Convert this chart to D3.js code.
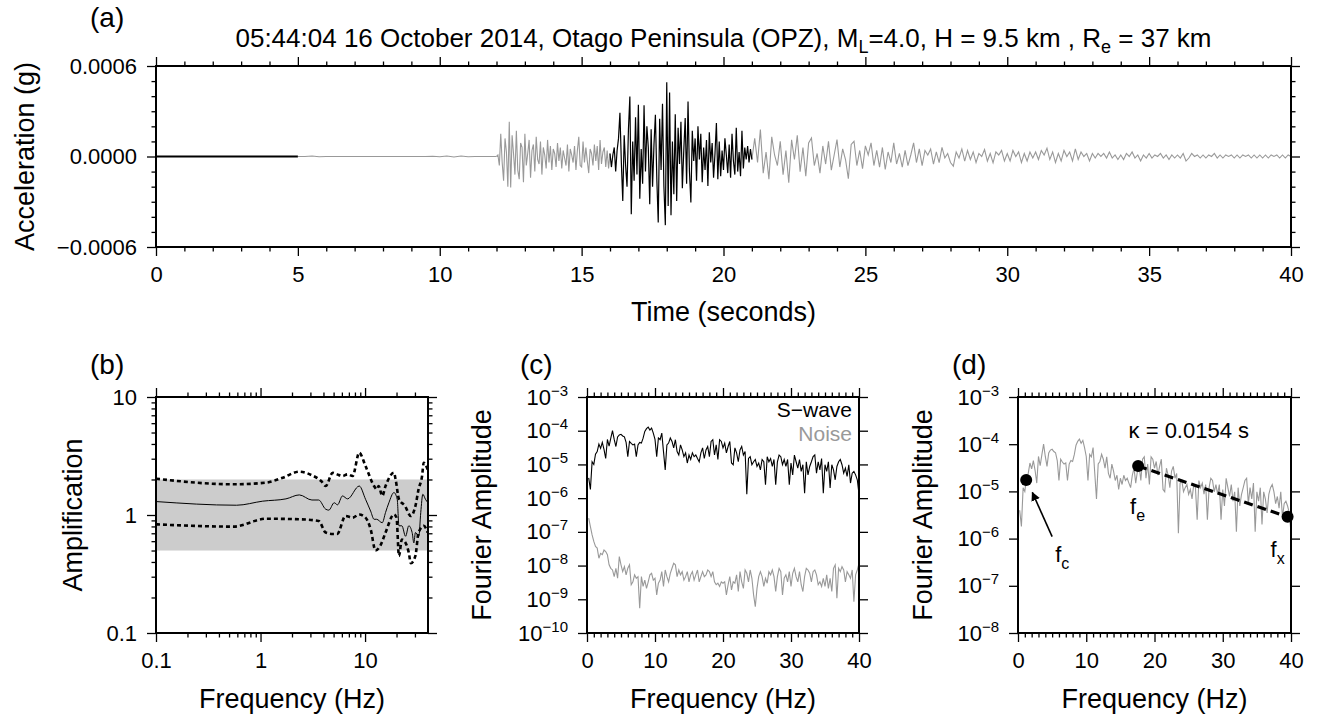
<!DOCTYPE html>
<html>
<head>
<meta charset="utf-8">
<script src="https://cdn.jsdelivr.net/npm/d3@7"></script>
<style>
  html, body { margin: 0; padding: 0; background: #fff; }
  svg { display: block; font-family: "Liberation Sans", Arial, Helvetica, sans-serif; }
</style>
</head>
<body>
<svg id="chart" width="1319" height="720"></svg>
<script>
// ---------- (a) acceleration record, values in micro-g ----------
const preEventT0 = 0, preEventDt = 5;
const preEvent = [0, 0];

const preNoiseT0 = 5, preNoiseDt = 0.25;
const preNoise = [0, 0, 3, -2, 0, 0, 0, 0, 0, 0, 0, 0, 0, 0, 0, 0, 0, 0, 0, 2,
  -2, 3, -3, 3, -2, 0, 0, 0, 0];

const pCodaT0 = 12.05, pCodaDt = 0.05;
const pCoda = [
  10, -60, 150, -40, -160, 120, 30, -200, 231, -205,
  140, 20, -120, 170, -90, -150, 90, 60, -170, 150,
  -60, 20, 110, -140, 40, 80, -100, 130, -20, -50,
  100, -120, 60, 10, -80, 110, -40, 70, -90, 50,
  20, -70, 90, -30, 60, -80, 40, -10, -60, 80,
  -100, 50, 10, -40, 70, -90, 40, 130, -60, -70,
  100, -40, 60, -30, -110, 50, 20, -60, 80, -30,
  70, -90, 110, -50, 30, 60, -70, 40, -80, 20
];

// S-wave window (drawn black)
const sWindowT0 = 16.0, sWindowDt = 0.05;
const sWindow = [
  20, -70, 10, 60, -100, 40, 120, 290, -40, -295,
  140, -60, -200, 180, 398, -383, 100, -160, 260, -120,
  343, -280, 50, -180, 340, -100, 200, 60, -317, 180,
  -200, 80, 277, -150, -437, 250, -90, 350, -200, -455,
  492, -328, 425, -389, 100, -250, 280, -295, 190, -50,
  230, -210, 40, 255, -180, 365, -100, -305, 170, -30,
  120, -160, 200, -20, 150, -170, 60, -90, 110, -196,
  160, -40, 90, -140, 20, 222, -150, 100, -130, 40,
  -90, 120, 10, -110, 80, -140, 150, -30, -120, 190,
  -100, 30, -130, 170, -80, 60, -20, 70, -40, 50,
  -20
];

const sCodaT0 = 21.0, sCodaDt = 0.1;
const sCoda = [
  -20, 120, -40, 178, -110, 30, -150, 130, 10, -60,
  100, -120, 40, -174, 110, -20, 140, -100, 60, -130,
  90, 123, -60, 20, -110, 70, -50, 100, -90, 10,
  112, -70, 50, -20, -147, 80, 101, -60, 40, -80,
  70, 10, 90, -60, 40, -70, 60, -86, 30, -40,
  90, -50, 20, -70, 40, -60, 10, 90, -40, 50,
  -60, 40, 10, 50, -50, 30, -40, 60, -10, 20,
  -40, -64, 30, -10, 50, -30, 40, -20, 30, -40,
  20, 0, 46, -30, 20, -42, 30, 10, 40, -30,
  20, -30, 40, 0, 30, -40, 20, -30, 30, -10,
  30, -20, 40, 10, 55, -20, 30, -40, 20, -30,
  40, 0, 30, -30, 50, -20, 30, 0, 20, -30,
  20, -10, 20, 0, 20, -10, 30, -10, 10, -20,
  10, -20, 20, 0, 30, -10, 10, -30, 10, -10,
  20, -10, 10, 0, 20, -10, 10, -20, 10, -10,
  10, -10, 20, -30, -10, 20, 0, 10, -10, 10,
  -10, 10, 0, 20, -10, 10, -10, 10, 0, 10,
  -10, 10, -10, 10, 0, 10, -10, 10, -10, 10,
  -10, 10, -10, 10, 0, 10, -10, 10, -10, 10,
  0
];

// ---------- (b) site amplification ----------
const ampBandLow = 0.5, ampBandHigh = 2.0;
const medianFreq = [0.1, 0.59, 1.05, 1.75, 2.35, 3.1, 3.6, 4.2, 4.5, 5.07, 5.45, 6.08, 6.8, 8.8,
  10.1, 11.3, 12.2, 12.9, 14.6, 15.7, 16.9, 18.9, 20.3, 21.1, 22.5, 24.4, 26.2, 28.2, 29.3,
  30.3, 32.7, 34.1, 35.7, 37.8, 40];
const medianAmp = [1.30, 1.21, 1.31, 1.37, 1.48, 1.34, 1.34, 1.12, 1.10, 1.27, 1.22, 1.45, 1.37, 1.76,
  1.36, 1.08, 0.92, 0.92, 0.86, 1.05, 1.27, 1.55, 1.36, 0.81, 0.81, 0.66, 0.81, 0.71, 0.58,
  0.71, 0.66, 1.05, 1.50, 1.36, 1.27];
const upperFreq = [0.1, 0.55, 1.13, 1.63, 2.35, 3.1, 3.8, 4.2, 4.9, 5.4, 6.1, 6.8, 7.6, 8.8, 10.1,
  12.2, 12.9, 13.5, 14.6, 15.7, 18.9, 19.6, 21.1, 24.0, 27.4, 30.3, 32.5, 35.1, 36.4, 39.7];
const upperAmp = [2.03, 1.82, 1.88, 2.07, 2.33, 2.17, 1.94, 1.76, 2.28, 2.21, 2.14, 2.21, 2.14, 3.37, 2.60,
  1.76, 1.65, 1.76, 1.45, 1.76, 2.28, 2.0, 1.36, 1.2, 0.98, 1.19, 1.65, 2.14, 2.77, 2.43];
const lowerFreq = [0.1, 0.55, 1.13, 2.35, 3.6, 4.2, 4.9, 5.4, 6.5, 7.6, 8.8, 10.1, 11.3, 12.6, 14.0,
  15.7, 18.9, 20.0, 21.1, 22.5, 24.4, 26.2, 27.4, 30.3, 32.5, 36.4, 39.7];
const lowerAmp = [0.834, 0.797, 0.93, 0.92, 0.89, 0.71, 0.69, 0.69, 0.98, 0.95, 1.01, 0.95, 0.76, 0.50, 0.55,
  0.71, 1.01, 0.95, 0.45, 0.62, 0.58, 0.48, 0.39, 0.45, 0.71, 0.81, 0.71];

// ---------- (c)/(d) Fourier spectra, bins every 0.25 Hz from 0.25 Hz ----------
const specDf = 0.25;
// S-wave, units of 1e-6
const sWaveSpec = [
  4.0, 1.8, 12, 10, 20, 24, 40, 30,
  45, 28, 15, 55, 35, 60, 100, 55,
  34, 65, 75, 78, 70, 66, 45, 17,
  48, 42, 38, 40, 17, 38, 45, 43,
  60, 95, 115, 128, 105, 120, 85, 55,
  17, 61, 54, 85, 24, 6.9, 38, 43,
  61, 48, 31, 54, 24, 19, 38, 27,
  17, 22, 11, 19, 14, 22, 17, 19,
  15, 12, 22, 31, 15, 27, 34, 17,
  48, 54, 19, 38, 14, 54, 48, 31,
  43, 22, 34, 48, 11, 9.8, 31, 22,
  12, 27, 34, 19, 24, 1.3, 15, 17,
  9.8, 12, 14, 8.7, 11, 6.9, 14, 12,
  2.5, 17, 12, 15, 8.7, 14, 2.5, 12,
  19, 17, 9.8, 14, 8.7, 14, 2.5, 11,
  4.9, 19, 12, 7.8, 14, 6.2, 9.8, 1.4,
  12, 4.9, 8.7, 12, 17, 19, 5.5, 12,
  6.9, 15, 1.4, 9.8, 6.2, 12, 2.0, 9.8,
  6.9, 3.5, 8.7, 12, 14, 9.8, 5.5, 7.8,
  4.4, 9.8, 2.8, 5.5, 6.2, 4.9, 3.5, 1.3
];
// pre-event noise, units of 1e-9
const noiseSpec = [
  255, 144, 81, 52, 37, 33, 16.5, 23,
  21, 29, 26, 21, 10.5, 8.3, 7.4, 4.7,
  8.3, 4.2, 18.5, 10.5, 6.6, 9.3, 5.3, 8.3,
  10.5, 2.7, 3.3, 5.3, 4.2, 4.7, 0.54, 4.7,
  2.4, 3.7, 2.1, 3.3, 5.3, 5.9, 3.7, 4.2,
  1.35, 3.0, 3.7, 6.6, 2.4, 7.4, 4.7, 3.3,
  5.9, 8.3, 11.7, 10.5, 4.7, 7.4, 5.3, 6.6,
  3.7, 4.7, 6.6, 3.3, 5.3, 6.6, 3.7, 5.3,
  7.4, 3.3, 4.7, 6.6, 4.7, 5.3, 7.4, 6.6,
  4.7, 6.6, 3.3, 2.7, 3.0, 2.4, 3.3, 3.0,
  3.3, 1.35, 2.7, 4.7, 1.9, 3.3, 3.0, 5.3,
  1.7, 6.6, 3.3, 2.1, 7.4, 5.9, 3.3, 7.4,
  4.2, 1.35, 0.6, 2.1, 4.7, 6.6, 4.7, 2.4,
  4.2, 3.0, 6.6, 5.3, 7.4, 4.7, 1.7, 4.7,
  8.3, 6.6, 1.35, 4.2, 5.3, 3.3, 6.6, 2.4,
  5.9, 8.3, 4.7, 3.3, 6.6, 2.7, 1.7, 4.7,
  8.3, 7.4, 5.9, 3.3, 6.6, 7.4, 5.3, 2.7,
  3.3, 2.4, 4.2, 2.4, 5.3, 2.1, 4.2, 1.7,
  8.3, 10.5, 1.07, 8.3, 6.6, 9.3, 7.4, 3.3,
  6.6, 5.3, 4.2, 7.4, 0.85, 5.3, 7.4, 11.7
];

// (d) kappa fit picks
const fcPick = { f: 1.2, a: 1.75e-5 };
const fePick = { f: 17.6, a: 3.45e-5 };
const fxPick = { f: 39.5, a: 2.9e-6 };
const fcArrowFrom = { f: 5.0, a: 1.1e-6 };
const fcArrowTo = { f: 2.1, a: 9.5e-6 };
const kappaLabelAt = { f: 16.2, a: 1.38e-4 };
const kappaValue = 0.0154;

// ---------- layout ----------
const svg = d3.select('#chart');
svg.append('rect').attr('width', 1319).attr('height', 720).attr('fill', '#fff');

const GRAY = '#999999';
const TICK_FONT = 22;

// draws GMT style frame: ticks outward on all four sides, labels left and bottom
function drawFrame(g, x, y, w, h, cfg) {
  const sides = [
    { gen: d3.axisBottom, scale: x, tr: `translate(0,${h})`, major: cfg.xMajor, minor: cfg.xMinor, fmt: cfg.xFmt },
    { gen: d3.axisTop, scale: x, tr: 'translate(0,0)', major: cfg.xMajor, minor: cfg.xMinor },
    { gen: d3.axisLeft, scale: y, tr: 'translate(0,0)', major: cfg.yMajor, minor: cfg.yMinor, fmt: cfg.yFmt, sup: cfg.ySup },
    { gen: d3.axisRight, scale: y, tr: `translate(${w},0)`, major: cfg.yMajor, minor: cfg.yMinor }
  ];
  sides.forEach(s => {
    if (s.minor) {
      g.append('g').attr('transform', s.tr)
        .call(s.gen(s.scale).tickValues(s.minor).tickSize(4.5).tickFormat(''))
        .call(a => a.select('.domain').remove());
    }
    const ag = g.append('g').attr('transform', s.tr)
      .call(s.gen(s.scale).tickValues(s.major).tickSize(9).tickPadding(10).tickFormat(s.fmt ? s.fmt : ''));
    ag.select('.domain').remove();
    ag.attr('font-family', null).attr('font-size', TICK_FONT);
    if (s.sup) {
      ag.selectAll('.tick text').each(function (d) {
        const t = d3.select(this);
        t.text('10');
        t.append('tspan').attr('dy', '-0.6em').attr('font-size', '15px').text(s.sup(d));
      });
    }
  });
  g.selectAll('.tick line').attr('stroke', '#000').attr('stroke-width', 1.3);
  g.append('rect').attr('width', w).attr('height', h)
    .attr('fill', 'none').attr('stroke', '#000').attr('stroke-width', 2);
}

function panelLabel(txt, x, y) {
  svg.append('text').attr('x', x).attr('y', y).attr('font-size', 28).text(txt);
}

function yTitle(txt, cx, cy) {
  svg.append('text').attr('transform', `translate(${cx},${cy}) rotate(-90)`)
    .attr('text-anchor', 'middle').attr('font-size', 27).text(txt);
}

function xTitle(txt, cx, y) {
  svg.append('text').attr('x', cx).attr('y', y)
    .attr('text-anchor', 'middle').attr('font-size', 27).text(txt);
}

const minusExp = d => '\u2212' + Math.round(-Math.log10(d));

// ================= (a) =================
const A = { x: 156, y: 66, w: 1135, h: 181 };
const gA = svg.append('g').attr('transform', `translate(${A.x},${A.y})`);
const xA = d3.scaleLinear().domain([0, 40]).range([0, A.w]);
const yA = d3.scaleLinear().domain([-0.0006, 0.0006]).range([A.h, 0]);

const toPts = (t0, dt, vals) => vals.map((v, i) => ({ t: t0 + i * dt, v: v * 1e-6 }));
const lineA = d3.line().x(d => xA(d.t)).y(d => yA(d.v));

const preNoisePts = toPts(preNoiseT0, preNoiseDt, preNoise);
const pCodaPts = [preNoisePts[preNoisePts.length - 1]].concat(toPts(pCodaT0, pCodaDt, pCoda));
const graySegs = [preNoisePts, pCodaPts, toPts(sCodaT0, sCodaDt, sCoda)];
graySegs.forEach(seg => {
  gA.append('path').datum(seg).attr('d', lineA)
    .attr('fill', 'none').attr('stroke', GRAY).attr('stroke-width', 1.1);
});
gA.append('path').datum(toPts(preEventT0, preEventDt, preEvent)).attr('d', lineA)
  .attr('fill', 'none').attr('stroke', '#000').attr('stroke-width', 2.2);
gA.append('path').datum(toPts(sWindowT0, sWindowDt, sWindow)).attr('d', lineA)
  .attr('fill', 'none').attr('stroke', '#000').attr('stroke-width', 1.2);

drawFrame(gA, xA, yA, A.w, A.h, {
  xMajor: d3.range(0, 41, 5),
  xMinor: d3.range(0, 41).filter(d => d % 5 !== 0),
  yMajor: [-0.0006, 0, 0.0006],
  yMinor: [-0.0005, -0.0004, -0.0003, -0.0002, -0.0001, 0.0001, 0.0002, 0.0003, 0.0004, 0.0005],
  xFmt: d3.format('d'),
  yFmt: d3.format('.4f')
});

panelLabel('(a)', 90, 27);
const title = svg.append('text').attr('x', A.x + A.w / 2).attr('y', 47)
  .attr('text-anchor', 'middle').attr('font-size', 26);
title.append('tspan').text('05:44:04 16 October 2014, Otago Peninsula (OPZ), M');
title.append('tspan').attr('dy', 6).attr('font-size', 18).text('L');
title.append('tspan').attr('dy', -6).text('=4.0, H = 9.5 km , R');
title.append('tspan').attr('dy', 6).attr('font-size', 18).text('e');
title.append('tspan').attr('dy', -6).text(' = 37 km');
yTitle('Acceleration (g)', 34, A.y + A.h / 2);
xTitle('Time (seconds)', A.x + A.w / 2, A.y + A.h + 74);

// ================= (b) =================
const B = { x: 156, y: 397, w: 272, h: 236 };
const gB = svg.append('g').attr('transform', `translate(${B.x},${B.y})`);
const xB = d3.scaleLog().domain([0.1, 40]).range([0, B.w]);
const yB = d3.scaleLog().domain([0.1, 10]).range([B.h, 0]);

gB.append('rect').attr('x', 0).attr('width', xB(40))
  .attr('y', yB(ampBandHigh)).attr('height', yB(ampBandLow) - yB(ampBandHigh))
  .attr('fill', '#cccccc');

const lineB = d3.line().x(d => xB(d[0])).y(d => yB(d[1])).curve(d3.curveMonotoneX);
const zip = (a, b) => a.map((v, i) => [v, b[i]]);
gB.append('path').datum(zip(medianFreq, medianAmp)).attr('d', lineB)
  .attr('fill', 'none').attr('stroke', '#000').attr('stroke-width', 1);
[zip(upperFreq, upperAmp), zip(lowerFreq, lowerAmp)].forEach(s => {
  gB.append('path').datum(s).attr('d', lineB)
    .attr('fill', 'none').attr('stroke', '#000').attr('stroke-width', 2.6)
    .attr('stroke-dasharray', '4,3');
});

const logMinor = [0.2, 0.3, 0.4, 0.5, 0.6, 0.7, 0.8, 0.9, 2, 3, 4, 5, 6, 7, 8, 9];
drawFrame(gB, xB, yB, B.w, B.h, {
  xMajor: [0.1, 1, 10],
  xMinor: logMinor.concat([20, 30]),
  yMajor: [0.1, 1, 10],
  yMinor: logMinor,
  xFmt: d => String(d),
  yFmt: d => String(d)
});
panelLabel('(b)', 90, 374);
yTitle('Amplification', 82, B.y + B.h / 2);
xTitle('Frequency (Hz)', B.x + B.w / 2, 708);

// ================= (c) =================
const C = { x: 587, y: 397, w: 272, h: 236 };
const gC = svg.append('g').attr('transform', `translate(${C.x},${C.y})`);
const xC = d3.scaleLinear().domain([0, 40]).range([0, C.w]);
const yC = d3.scaleLog().domain([1e-10, 1e-3]).range([C.h, 0]);

const sWavePts = sWaveSpec.map((v, i) => ({ f: (i + 1) * specDf, a: v * 1e-6 }));
const noisePts = noiseSpec.map((v, i) => ({ f: (i + 1) * specDf, a: v * 1e-9 }));
const lineC = d3.line().x(d => xC(d.f)).y(d => yC(d.a));
gC.append('path').datum(noisePts).attr('d', lineC)
  .attr('fill', 'none').attr('stroke', GRAY).attr('stroke-width', 1.1);
gC.append('path').datum(sWavePts).attr('d', lineC)
  .attr('fill', 'none').attr('stroke', '#000').attr('stroke-width', 1.1);

const freqMinor = d3.range(0, 41).filter(d => d % 10 !== 0);
drawFrame(gC, xC, yC, C.w, C.h, {
  xMajor: [0, 10, 20, 30, 40],
  xMinor: freqMinor,
  yMajor: [1e-10, 1e-9, 1e-8, 1e-7, 1e-6, 1e-5, 1e-4, 1e-3],
  xFmt: d3.format('d'),
  yFmt: () => '10',
  ySup: minusExp
});
gC.append('text').attr('x', C.w - 7).attr('y', 20).attr('text-anchor', 'end')
  .attr('font-size', 21).attr('fill', '#000').text('S\u2212wave');
gC.append('text').attr('x', C.w - 7).attr('y', 44).attr('text-anchor', 'end')
  .attr('font-size', 21).attr('fill', GRAY).text('Noise');
panelLabel('(c)', 520, 374);
yTitle('Fourier Amplitude', 491, C.y + C.h / 2);
xTitle('Frequency (Hz)', C.x + C.w / 2, 708);

// ================= (d) =================
const D = { x: 1018, y: 397, w: 273, h: 236 };
const gD = svg.append('g').attr('transform', `translate(${D.x},${D.y})`);
const xD = d3.scaleLinear().domain([0, 40]).range([0, D.w]);
const yD = d3.scaleLog().domain([1e-8, 1e-3]).range([D.h, 0]);
const lineD = d3.line().x(d => xD(d.f)).y(d => yD(d.a));

gD.append('path').datum(sWavePts).attr('d', lineD)
  .attr('fill', 'none').attr('stroke', GRAY).attr('stroke-width', 1.1);
gD.append('path').datum([fePick, fxPick]).attr('d', lineD)
  .attr('fill', 'none').attr('stroke', '#000').attr('stroke-width', 3.2)
  .attr('stroke-dasharray', '9,5');
gD.selectAll('.pick').data([fcPick, fePick, fxPick]).enter().append('circle')
  .attr('cx', d => xD(d.f)).attr('cy', d => yD(d.a)).attr('r', 6).attr('fill', '#000');

svg.append('defs').append('marker').attr('id', 'arrowHead')
  .attr('viewBox', '0 0 10 10').attr('refX', 9).attr('refY', 5)
  .attr('markerWidth', 9).attr('markerHeight', 9).attr('markerUnits', 'userSpaceOnUse')
  .attr('orient', 'auto')
  .append('path').attr('d', 'M0,0L10,5L0,10z').attr('fill', '#000');
gD.append('line')
  .attr('x1', xD(fcArrowFrom.f)).attr('y1', yD(fcArrowFrom.a))
  .attr('x2', xD(fcArrowTo.f)).attr('y2', yD(fcArrowTo.a))
  .attr('stroke', '#000').attr('stroke-width', 1.6).attr('marker-end', 'url(#arrowHead)');

function pickLabel(sub, x, y) {
  const t = gD.append('text').attr('x', x).attr('y', y).attr('font-size', 22);
  t.append('tspan').text('f');
  t.append('tspan').attr('dy', 7).attr('font-size', 16).text(sub);
}
pickLabel('c', xD(fcArrowFrom.f) + 3, yD(fcArrowFrom.a) + 25);
pickLabel('e', xD(fePick.f) - 8, yD(fePick.a) + 48);
pickLabel('x', xD(fxPick.f) - 17, yD(fxPick.a) + 40);

gD.append('text').attr('x', xD(kappaLabelAt.f)).attr('y', yD(kappaLabelAt.a))
  .attr('font-size', 22).text('\u03ba = ' + kappaValue + ' s');

drawFrame(gD, xD, yD, D.w, D.h, {
  xMajor: [0, 10, 20, 30, 40],
  xMinor: freqMinor,
  yMajor: [1e-8, 1e-7, 1e-6, 1e-5, 1e-4, 1e-3],
  xFmt: d3.format('d'),
  yFmt: () => '10',
  ySup: minusExp
});
panelLabel('(d)', 952, 374);
yTitle('Fourier Amplitude', 932, D.y + D.h / 2);
xTitle('Frequency (Hz)', D.x + D.w / 2, 708);
</script>
</body>
</html>
